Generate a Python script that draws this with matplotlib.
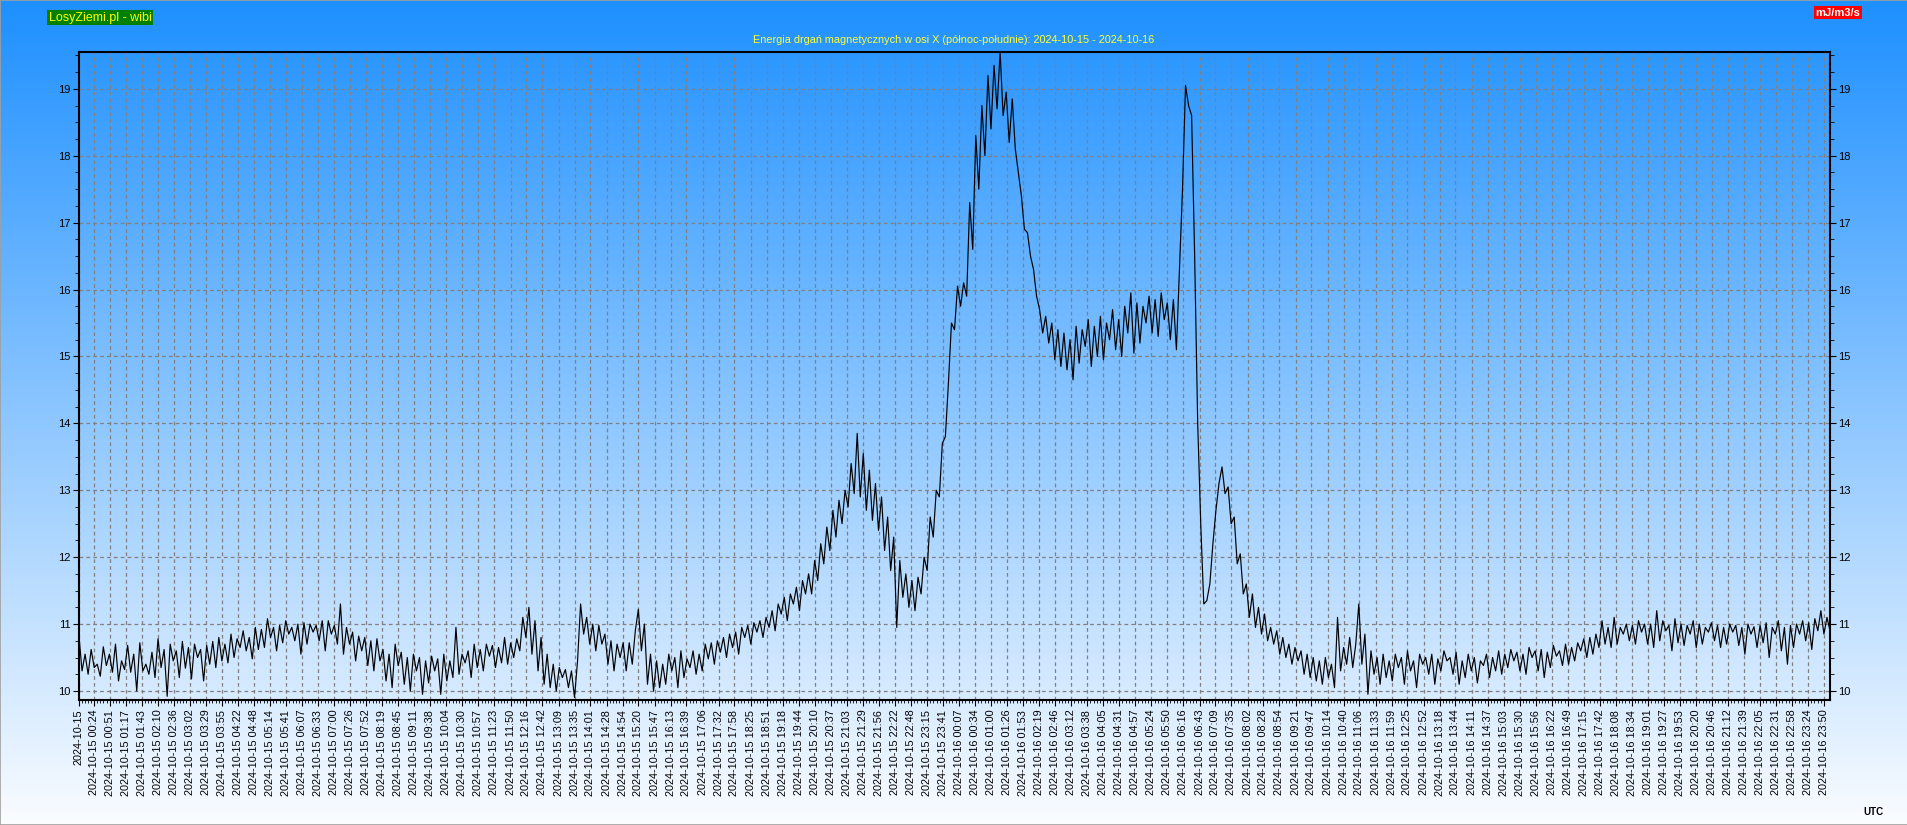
import numpy as np
import matplotlib.pyplot as plt
from matplotlib.ticker import FixedLocator, MultipleLocator
from matplotlib.patches import Rectangle

plt.rcParams['font.family'] = ['Liberation Sans', 'DejaVu Sans']

TITLE = 'Energia drgań magnetycznych w osi X (północ-południe): 2024-10-15 - 2024-10-16'
STEP_MIN = 5

# samples every 5 minutes, one row per hour (2024-10-15 00:00 ...)
energy_rows = [
    [10.82, 10.30, 10.55, 10.25, 10.62, 10.35, 10.40, 10.22, 10.66, 10.38, 10.55, 10.28],
    [10.70, 10.15, 10.45, 10.32, 10.68, 10.28, 10.55, 10.00, 10.72, 10.30, 10.40, 10.25],
    [10.58, 10.20, 10.78, 10.35, 10.62, 9.92, 10.70, 10.45, 10.60, 10.20, 10.74, 10.34],
    [10.65, 10.18, 10.70, 10.50, 10.62, 10.15, 10.68, 10.40, 10.74, 10.35, 10.80, 10.45],
    [10.70, 10.42, 10.85, 10.50, 10.78, 10.65, 10.90, 10.60, 10.80, 10.48, 10.95, 10.62],
    [10.92, 10.65, 11.08, 10.80, 10.95, 10.60, 10.98, 10.72, 11.05, 10.85, 10.95, 10.75],
    [11.00, 10.55, 11.02, 10.70, 11.00, 10.88, 10.98, 10.75, 11.05, 10.60, 11.05, 10.85],
    [10.98, 10.70, 11.30, 10.55, 10.95, 10.70, 10.88, 10.45, 10.82, 10.60, 10.80, 10.38],
    [10.75, 10.30, 10.78, 10.45, 10.62, 10.15, 10.55, 10.05, 10.70, 10.38, 10.58, 10.10],
    [10.50, 10.00, 10.55, 10.30, 10.50, 9.95, 10.45, 10.12, 10.52, 10.30, 10.48, 9.95],
    [10.55, 10.15, 10.45, 10.20, 10.95, 10.25, 10.55, 10.42, 10.60, 10.20, 10.70, 10.35],
    [10.62, 10.30, 10.70, 10.52, 10.68, 10.35, 10.65, 10.42, 10.80, 10.40, 10.72, 10.50],
    [10.78, 10.60, 11.10, 10.80, 11.25, 10.55, 11.05, 10.30, 10.80, 10.10, 10.55, 10.05],
    [10.40, 10.00, 10.35, 10.20, 10.32, 10.05, 10.30, 9.90, 10.45, 11.30, 10.85, 11.10],
    [10.70, 11.00, 10.60, 10.98, 10.70, 10.85, 10.40, 10.75, 10.30, 10.70, 10.50, 10.72],
    [10.30, 10.72, 10.40, 10.90, 11.22, 10.60, 11.00, 10.10, 10.55, 10.00, 10.45, 10.05],
    [10.40, 10.10, 10.55, 10.30, 10.50, 10.05, 10.60, 10.20, 10.48, 10.35, 10.60, 10.25],
    [10.55, 10.30, 10.70, 10.48, 10.72, 10.40, 10.75, 10.58, 10.80, 10.50, 10.85, 10.65],
    [10.88, 10.55, 10.95, 10.80, 10.98, 10.70, 11.02, 10.88, 11.05, 10.80, 11.10, 10.95],
    [11.20, 10.90, 11.30, 11.15, 11.40, 11.05, 11.45, 11.30, 11.55, 11.20, 11.65, 11.45],
    [11.75, 11.45, 11.95, 11.65, 12.20, 11.90, 12.45, 12.10, 12.70, 12.30, 12.85, 12.50],
    [13.00, 12.75, 13.40, 12.95, 13.85, 12.90, 13.55, 12.70, 13.30, 12.55, 13.10, 12.40],
    [12.90, 12.10, 12.60, 11.80, 12.30, 10.95, 11.95, 11.40, 11.75, 11.25, 11.65, 11.20],
    [11.70, 11.45, 12.00, 11.80, 12.60, 12.30, 13.00, 12.90, 13.70, 13.80, 14.60, 15.50],
    # 2024-10-16
    [15.40, 16.05, 15.75, 16.10, 15.90, 17.30, 16.60, 18.30, 17.50, 18.75, 18.00, 19.20],
    [18.40, 19.35, 18.70, 19.55, 18.60, 18.95, 18.20, 18.85, 18.10, 17.75, 17.40, 16.90],
    [16.85, 16.50, 16.30, 15.90, 15.70, 15.35, 15.60, 15.20, 15.50, 14.95, 15.40, 14.85],
    [15.35, 14.80, 15.25, 14.65, 15.45, 14.90, 15.40, 15.15, 15.55, 14.85, 15.45, 15.00],
    [15.60, 14.95, 15.50, 15.25, 15.70, 15.10, 15.55, 15.00, 15.75, 15.35, 15.95, 15.05],
    [15.80, 15.20, 15.75, 15.50, 15.90, 15.35, 15.85, 15.30, 15.95, 15.55, 15.80, 15.25],
    [15.85, 15.10, 16.30, 17.50, 19.05, 18.75, 18.60, 16.50, 14.00, 12.50, 11.30, 11.35],
    [11.60, 12.20, 12.70, 13.10, 13.35, 12.95, 13.05, 12.50, 12.60, 11.90, 12.05, 11.45],
    [11.60, 11.10, 11.45, 10.95, 11.25, 10.85, 11.15, 10.75, 10.95, 10.70, 10.90, 10.55],
    [10.80, 10.50, 10.70, 10.40, 10.65, 10.45, 10.60, 10.25, 10.55, 10.20, 10.50, 10.15],
    [10.45, 10.10, 10.50, 10.20, 10.40, 10.05, 11.10, 10.30, 10.65, 10.40, 10.80, 10.35],
    [10.70, 11.30, 10.40, 10.85, 9.95, 10.60, 10.25, 10.50, 10.10, 10.55, 10.20, 10.45],
    [10.15, 10.55, 10.35, 10.50, 10.10, 10.60, 10.30, 10.45, 10.05, 10.55, 10.40, 10.50],
    [10.25, 10.55, 10.10, 10.48, 10.30, 10.60, 10.45, 10.50, 10.25, 10.58, 10.10, 10.45],
    [10.20, 10.55, 10.30, 10.50, 10.12, 10.45, 10.38, 10.55, 10.20, 10.50, 10.30, 10.60],
    [10.25, 10.55, 10.35, 10.62, 10.45, 10.58, 10.30, 10.55, 10.25, 10.65, 10.50, 10.60],
    [10.30, 10.62, 10.20, 10.58, 10.35, 10.68, 10.52, 10.60, 10.38, 10.70, 10.40, 10.65],
    [10.45, 10.72, 10.60, 10.78, 10.50, 10.80, 10.55, 10.85, 10.65, 11.05, 10.70, 10.95],
    [10.65, 11.10, 10.70, 10.95, 10.85, 11.00, 10.75, 10.98, 10.70, 11.05, 10.88, 11.00],
    [10.70, 11.00, 10.65, 11.20, 10.75, 11.05, 10.90, 10.98, 10.60, 11.08, 10.72, 11.00],
    [10.68, 10.98, 10.85, 11.05, 10.65, 11.00, 10.70, 10.95, 10.88, 11.02, 10.75, 10.98],
    [10.65, 10.95, 10.70, 11.00, 10.88, 10.98, 10.68, 10.95, 10.55, 11.00, 10.85, 10.96],
    [10.65, 10.98, 10.72, 11.02, 10.50, 10.95, 10.85, 11.05, 10.60, 10.95, 10.40, 10.98],
    [10.65, 11.00, 10.85, 11.05, 10.75, 11.02, 10.62, 11.08, 10.90, 11.20, 10.85, 11.10],
]
energy_last = 10.90

tick_labels = [
    '2024-10-15',
    '2024-10-15 00:24', '2024-10-15 00:51', '2024-10-15 01:17', '2024-10-15 01:43',
    '2024-10-15 02:10', '2024-10-15 02:36', '2024-10-15 03:02', '2024-10-15 03:29',
    '2024-10-15 03:55', '2024-10-15 04:22', '2024-10-15 04:48', '2024-10-15 05:14',
    '2024-10-15 05:41', '2024-10-15 06:07', '2024-10-15 06:33', '2024-10-15 07:00',
    '2024-10-15 07:26', '2024-10-15 07:52', '2024-10-15 08:19', '2024-10-15 08:45',
    '2024-10-15 09:11', '2024-10-15 09:38', '2024-10-15 10:04', '2024-10-15 10:30',
    '2024-10-15 10:57', '2024-10-15 11:23', '2024-10-15 11:50', '2024-10-15 12:16',
    '2024-10-15 12:42', '2024-10-15 13:09', '2024-10-15 13:35', '2024-10-15 14:01',
    '2024-10-15 14:28', '2024-10-15 14:54', '2024-10-15 15:20', '2024-10-15 15:47',
    '2024-10-15 16:13', '2024-10-15 16:39', '2024-10-15 17:06', '2024-10-15 17:32',
    '2024-10-15 17:58', '2024-10-15 18:25', '2024-10-15 18:51', '2024-10-15 19:18',
    '2024-10-15 19:44', '2024-10-15 20:10', '2024-10-15 20:37', '2024-10-15 21:03',
    '2024-10-15 21:29', '2024-10-15 21:56', '2024-10-15 22:22', '2024-10-15 22:48',
    '2024-10-15 23:15', '2024-10-15 23:41',
    '2024-10-16 00:07', '2024-10-16 00:34', '2024-10-16 01:00', '2024-10-16 01:26',
    '2024-10-16 01:53', '2024-10-16 02:19', '2024-10-16 02:46', '2024-10-16 03:12',
    '2024-10-16 03:38', '2024-10-16 04:05', '2024-10-16 04:31', '2024-10-16 04:57',
    '2024-10-16 05:24', '2024-10-16 05:50', '2024-10-16 06:16', '2024-10-16 06:43',
    '2024-10-16 07:09', '2024-10-16 07:35', '2024-10-16 08:02', '2024-10-16 08:28',
    '2024-10-16 08:54', '2024-10-16 09:21', '2024-10-16 09:47', '2024-10-16 10:14',
    '2024-10-16 10:40', '2024-10-16 11:06', '2024-10-16 11:33', '2024-10-16 11:59',
    '2024-10-16 12:25', '2024-10-16 12:52', '2024-10-16 13:18', '2024-10-16 13:44',
    '2024-10-16 14:11', '2024-10-16 14:37', '2024-10-16 15:03', '2024-10-16 15:30',
    '2024-10-16 15:56', '2024-10-16 16:22', '2024-10-16 16:49', '2024-10-16 17:15',
    '2024-10-16 17:42', '2024-10-16 18:08', '2024-10-16 18:34', '2024-10-16 19:01',
    '2024-10-16 19:27', '2024-10-16 19:53', '2024-10-16 20:20', '2024-10-16 20:46',
    '2024-10-16 21:12', '2024-10-16 21:39', '2024-10-16 22:05', '2024-10-16 22:31',
    '2024-10-16 22:58', '2024-10-16 23:24', '2024-10-16 23:50',
]


def label_minutes(lbl):
    day = int(lbl[8:10]) - 15
    if len(lbl) > 10:
        hh, mm = lbl[11:].split(':')
        return day * 1440 + int(hh) * 60 + int(mm)
    return day * 1440


y = np.array([v for row in energy_rows for v in row] + [energy_last])
t = np.arange(len(y)) * STEP_MIN
tick_pos = np.array([label_minutes(s) for s in tick_labels])

W, H = 1908, 825
fig = plt.figure(figsize=(W / 100, H / 100), dpi=100)

# blue -> white background gradient
bg = fig.add_axes([0, 0, 1, 1], zorder=-5)
top = np.array([30, 144, 255]) / 255
bot = np.array([250, 252, 255]) / 255
f = np.linspace(0, 1, 256)[:, None]
grad = (top * (1 - f) + bot * f)[:, None, :]
bg.imshow(grad, aspect='auto', extent=[0, 1, 0, 1])
bg.axis('off')
fig.patches.append(Rectangle((0, 0), 1, 1, transform=fig.transFigure, fill=False,
                             edgecolor='#a0a0a0', lw=1.2))

ax = fig.add_axes([79 / W, 1 - 700 / H, (1830 - 79) / W, (700 - 52) / H])
ax.set_facecolor('none')
ax.plot(t, y, color='black', lw=0.85)
ax.set_xlim(0, 2880)
ax.set_ylim(9.865, 19.55)

ax.xaxis.set_major_locator(FixedLocator(tick_pos))
ax.set_xticklabels(tick_labels, rotation=90, fontsize=7.8)
minor = []
for a, b in zip(tick_pos[:-1], tick_pos[1:]):
    minor.extend(np.linspace(a, b, 6)[1:-1])
ax.xaxis.set_minor_locator(FixedLocator(minor))
ax.yaxis.set_major_locator(MultipleLocator(1))
ax.yaxis.set_minor_locator(MultipleLocator(0.25))

ax.tick_params(axis='y', which='both', left=True, right=True, labelleft=True, labelright=True,
               labelsize=8, direction='out', pad=2)
ax.tick_params(axis='y', which='major', length=4)
ax.tick_params(axis='y', which='minor', length=3)
ax.tick_params(axis='x', which='major', length=4, pad=3)
ax.tick_params(axis='x', which='minor', length=2.5)
for sp in ax.spines.values():
    sp.set_linewidth(1.5)

ax.grid(True, which='major', color='#808080', lw=0.9, linestyle=(0, (3, 2.5)))

fig.text(954 / W, 1 - 40 / H, TITLE, color='#ffff33', fontsize=7.8, ha='center', va='center')
fig.text(100 / W, 1 - 17.5 / H, 'LosyZiemi.pl - wibi', color='#ffff00', fontsize=9,
         ha='center', va='center', bbox=dict(boxstyle='square,pad=0.1', fc='#008000', ec='none'))
fig.text(1838 / W, 1 - 12.5 / H, 'mJ/m3/s', color='white', fontsize=8, fontweight='bold',
         ha='center', va='center', bbox=dict(boxstyle='square,pad=0.15', fc='#ff0000', ec='none'))
fig.text(1873 / W, 1 - 812 / H, 'UTC', color='black', fontsize=7, fontweight='bold',
         ha='center', va='center')

fig.savefig('out.png', dpi=100)
